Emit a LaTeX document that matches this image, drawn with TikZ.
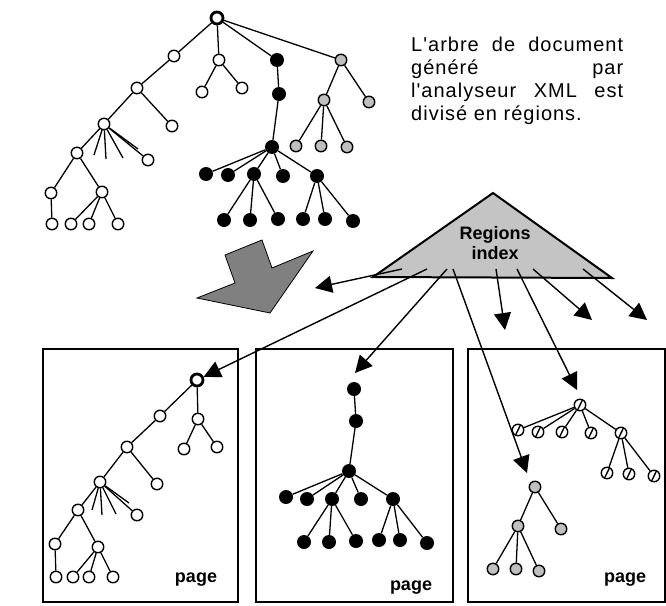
\documentclass[tikz,border=0pt]{standalone}
\usepackage{fontspec}
\setmainfont{Liberation Sans}
\newfontfamily\captionfont[LetterSpace=5]{Liberation Sans}
\usetikzlibrary{arrows.meta}

\begin{document}
\begin{tikzpicture}[x=1pt,y=-1pt]
        \tikzstyle{wnode}=[circle,draw=black,line width=1.4pt,fill=white,inner sep=0pt,minimum size=11.5pt]
        \tikzstyle{rootnode}=[wnode,line width=2.8pt,minimum size=12pt]
        \tikzstyle{bnode}=[circle,fill=black,inner sep=0pt,minimum size=14pt]
        \tikzstyle{gnode}=[wnode,fill=black!25]
        \tikzstyle{hnode}=[wnode,path picture={\draw[line width=1.4pt] ([shift={(2pt,-2pt)}]path picture bounding box.south west) -- ([shift={(-2pt,2pt)}]path picture bounding box.north east);}]
        \tikzstyle{edge}=[draw,line width=1.3pt]
        \tikzstyle{ptr}=[draw,line width=1.4pt,-{Triangle[length=17pt,width=17pt]}]
        \tikzstyle{pagebox}=[draw,line width=2pt]
        \tikzstyle{pagelabel}=[font=\bfseries\fontsize{18}{18}\selectfont,inner sep=0pt]
        \useasboundingbox (0,0) rectangle (666,605);

       % document tree
       \begin{scope}
         \node [rootnode] (t0) at (217,18) {};
         \node [wnode] (ta) at (174,56) {};
         \node [wnode] (tb) at (219,60) {};
         \node [bnode] (tc) at (277,60) {};
         \node [gnode] (td) at (341,60) {};
         \node [wnode] (ta1) at (137,88) {};
         \node [wnode] (ta2) at (104,124) {};
         \node [wnode] (ta3) at (172,126) {};
         \node [wnode] (ta4) at (77,153) {};
         \node [wnode] (ta5) at (148,160) {};
         \node [wnode] (ta6) at (51,193) {};
         \node [wnode] (ta7) at (102,192) {};
         \node [wnode] (ta8) at (52,224) {};
         \node [wnode] (ta9) at (71,224) {};
         \node [wnode] (ta10) at (89,224) {};
         \node [wnode] (ta11) at (118,224) {};
         \coordinate (ts1) at (94,155);
         \coordinate (ts2) at (106,159);
         \coordinate (ts3) at (123,158);
         \coordinate (ts4) at (138,149);
         \node [wnode] (tb1) at (202,92) {};
         \node [wnode] (tb2) at (242,88) {};
         \node [bnode] (tc1) at (279,94) {};
         \node [bnode] (tc2) at (272,147) {};
         \node [bnode] (tc3) at (206,174) {};
         \node [bnode] (tc4) at (228,175) {};
         \node [bnode] (tc5) at (254,174) {};
         \node [bnode] (tc6) at (283,176) {};
         \node [bnode] (tc7) at (317,176) {};
         \node [bnode] (tc8) at (224,220) {};
         \node [bnode] (tc9) at (250,220) {};
         \node [bnode] (tc10) at (278,219) {};
         \node [bnode] (tc11) at (303,219) {};
         \node [bnode] (tc12) at (325,219) {};
         \node [bnode] (tc13) at (353,221) {};
         \node [gnode] (td1) at (324,100) {};
         \node [gnode] (td2) at (369,102) {};
         \node [gnode] (td3) at (296,146) {};
         \node [gnode] (td4) at (321,146) {};
         \node [gnode] (td5) at (347,147) {};
         \path[edge] (t0) edge (ta);
         \path[edge] (t0) edge (tb);
         \path[edge] (t0) edge (tc);
         \path[edge] (t0) edge (td);
         \path[edge] (ta) edge (ta1);
         \path[edge] (ta1) edge (ta2);
         \path[edge] (ta1) edge (ta3);
         \path[edge] (ta2) edge (ta4);
         \path[edge] (ta2) edge (ta5);
         \path[edge] (ta2) edge (ts1);
         \path[edge] (ta2) edge (ts2);
         \path[edge] (ta2) edge (ts3);
         \path[edge] (ta2) edge (ts4);
         \path[edge] (ta4) edge (ta6);
         \path[edge] (ta4) edge (ta7);
         \path[edge] (ta6) edge (ta8);
         \path[edge] (ta7) edge (ta9);
         \path[edge] (ta7) edge (ta10);
         \path[edge] (ta7) edge (ta11);
         \path[edge] (tb) edge (tb1);
         \path[edge] (tb) edge (tb2);
         \path[edge] (tc) edge (tc1);
         \path[edge] (tc1) edge (tc2);
         \path[edge] (tc2) edge (tc3);
         \path[edge] (tc2) edge (tc4);
         \path[edge] (tc2) edge (tc5);
         \path[edge] (tc2) edge (tc6);
         \path[edge] (tc2) edge (tc7);
         \path[edge] (tc5) edge (tc8);
         \path[edge] (tc5) edge (tc9);
         \path[edge] (tc5) edge (tc10);
         \path[edge] (tc7) edge (tc11);
         \path[edge] (tc7) edge (tc12);
         \path[edge] (tc7) edge (tc13);
         \path[edge] (td) edge (td1);
         \path[edge] (td) edge (td2);
         \path[edge] (td1) edge (td3);
         \path[edge] (td1) edge (td4);
         \path[edge] (td1) edge (td5);
        \end{scope}

        \node [anchor=north west,text width=212pt,align=justify,inner sep=0pt,
               font=\captionfont\fontsize{20}{23}\selectfont] (caption) at (411,37)
              {L'arbre de document\linebreak généré par\linebreak l'analyseur XML est\linebreak divisé en régions.};

       % big arrow and regions index
        \draw [fill=black!50,line width=0.8pt] (225,255) -- (262,240) -- (272,268) -- (313,251)
              -- (270,313) -- (197,298) -- (235,283) -- cycle;
        \draw [fill=black!23,line width=2pt,line join=miter] (373,277) -- (493,193) -- (612,278) -- cycle;
        \node [font=\bfseries\fontsize{18}{20}\selectfont,align=center,inner sep=0pt] (idx) at (495,243) {Regions\\index};

       % pages
        \draw [pagebox] (43,349) rectangle (238,602);
        \draw [pagebox] (256,349) rectangle (453,602);
        \draw [pagebox] (468,349) rectangle (665,602);
        \node [pagelabel] (pg1) at (196,580) {page};
        \node [pagelabel] (pg2) at (411,588) {page};
        \node [pagelabel] (pg3) at (625,580) {page};

       \begin{scope}
         \node [rootnode] (p0) at (197,380) {};
         \node [wnode] (pa) at (160,416) {};
         \node [wnode] (pb) at (198,419) {};
         \node [wnode] (pb1) at (184,449) {};
         \node [wnode] (pb2) at (217,447) {};
         \node [wnode] (pa1) at (127,447) {};
         \node [wnode] (pa2) at (100,482) {};
         \node [wnode] (pa3) at (157,484) {};
         \node [wnode] (pa4) at (78,510) {};
         \node [wnode] (pa5) at (137,515) {};
         \node [wnode] (pa6) at (55,544) {};
         \node [wnode] (pa7) at (98,547) {};
         \node [wnode] (pa8) at (56,577) {};
         \node [wnode] (pa9) at (73,577) {};
         \node [wnode] (pa10) at (89,577) {};
         \node [wnode] (pa11) at (113,577) {};
         \coordinate (ps1) at (92,510);
         \coordinate (ps2) at (102,515);
         \coordinate (ps3) at (116,514);
         \coordinate (ps4) at (129,503);
         \path[edge] (p0) edge (pa);
         \path[edge] (p0) edge (pb);
         \path[edge] (pb) edge (pb1);
         \path[edge] (pb) edge (pb2);
         \path[edge] (pa) edge (pa1);
         \path[edge] (pa1) edge (pa2);
         \path[edge] (pa1) edge (pa3);
         \path[edge] (pa2) edge (pa4);
         \path[edge] (pa2) edge (pa5);
         \path[edge] (pa2) edge (ps1);
         \path[edge] (pa2) edge (ps2);
         \path[edge] (pa2) edge (ps3);
         \path[edge] (pa2) edge (ps4);
         \path[edge] (pa4) edge (pa6);
         \path[edge] (pa4) edge (pa7);
         \path[edge] (pa6) edge (pa8);
         \path[edge] (pa7) edge (pa9);
         \path[edge] (pa7) edge (pa10);
         \path[edge] (pa7) edge (pa11);
        \end{scope}

       \begin{scope}
         \node [bnode] (q0) at (354,389) {};
         \node [bnode] (q1) at (356,421) {};
         \node [bnode] (q2) at (349,471) {};
         \node [bnode] (q3) at (286,497) {};
         \node [bnode] (q4) at (307,499) {};
         \node [bnode] (q5) at (332,499) {};
         \node [bnode] (q6) at (361,499) {};
         \node [bnode] (q7) at (393,499) {};
         \node [bnode] (q8) at (304,542) {};
         \node [bnode] (q9) at (329,542) {};
         \node [bnode] (q10) at (356,541) {};
         \node [bnode] (q11) at (379,540) {};
         \node [bnode] (q12) at (400,540) {};
         \node [bnode] (q13) at (427,543) {};
         \path[edge] (q0) edge (q1);
         \path[edge] (q1) edge (q2);
         \path[edge] (q2) edge (q3);
         \path[edge] (q2) edge (q4);
         \path[edge] (q2) edge (q5);
         \path[edge] (q2) edge (q6);
         \path[edge] (q2) edge (q7);
         \path[edge] (q5) edge (q8);
         \path[edge] (q5) edge (q9);
         \path[edge] (q5) edge (q10);
         \path[edge] (q7) edge (q11);
         \path[edge] (q7) edge (q12);
         \path[edge] (q7) edge (q13);
        \end{scope}

       \begin{scope}
         \node [hnode] (h0) at (580,405) {};
         \node [hnode] (h1) at (518,430) {};
         \node [hnode] (h2) at (538,432) {};
         \node [hnode] (h3) at (562,432) {};
         \node [hnode] (h4) at (591,433) {};
         \node [hnode] (h5) at (621,433) {};
         \node [hnode] (h6) at (607,473) {};
         \node [hnode] (h7) at (629,474) {};
         \node [hnode] (h8) at (654,476) {};
         \node [gnode] (g0) at (535,487) {};
         \node [gnode] (g1) at (518,526) {};
         \node [gnode] (g2) at (561,529) {};
         \node [gnode] (g3) at (493,569) {};
         \node [gnode] (g4) at (516,569) {};
         \node [gnode] (g5) at (539,571) {};
         \path[edge] (h0) edge (h1);
         \path[edge] (h0) edge (h2);
         \path[edge] (h0) edge (h3);
         \path[edge] (h0) edge (h4);
         \path[edge] (h0) edge (h5);
         \path[edge] (h5) edge (h6);
         \path[edge] (h5) edge (h7);
         \path[edge] (h5) edge (h8);
         \path[edge] (g0) edge (g1);
         \path[edge] (g0) edge (g2);
         \path[edge] (g1) edge (g3);
         \path[edge] (g1) edge (g4);
         \path[edge] (g1) edge (g5);
        \end{scope}

       % pointers out of the index
        \coordinate (r1) at (402,269);
        \coordinate (r2) at (427,269);
        \coordinate (r3) at (447,269);
        \coordinate (r4) at (453,269);
        \coordinate (r5) at (496,269);
        \coordinate (r6) at (517,269);
        \coordinate (r7) at (533,269);
        \coordinate (r8) at (583,269);
        \coordinate (e1) at (315,288);
        \coordinate (e3) at (355,373);
        \coordinate (e4) at (527,473);
        \coordinate (e5) at (505,330);
        \coordinate (e6) at (577,390);
        \coordinate (e7) at (592,320);
        \coordinate (e8) at (647,320);
        \path[ptr] (r1) -- (e1);
        \path[ptr] (r2) -- (p0);
        \path[ptr] (r3) -- (e3);
        \path[ptr] (r4) -- (e4);
        \path[ptr] (r5) -- (e5);
        \path[ptr] (r6) -- (e6);
        \path[ptr] (r7) -- (e7);
        \path[ptr] (r8) -- (e8);
      \end{tikzpicture}
\end{document}
